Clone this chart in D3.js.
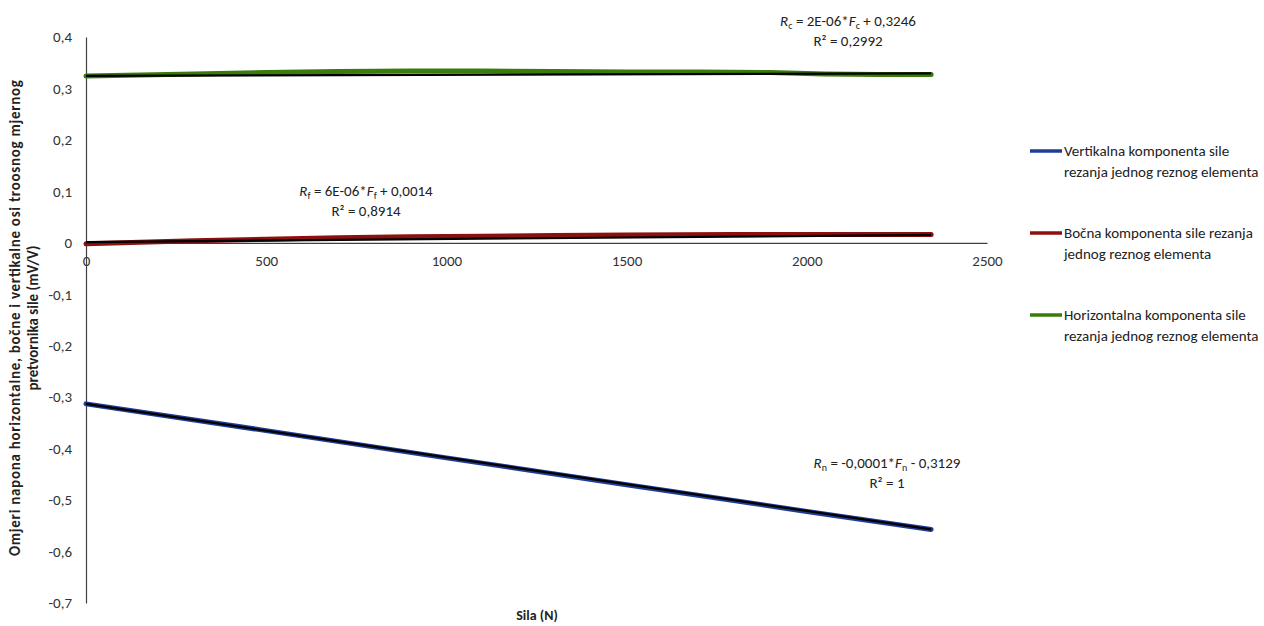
<!DOCTYPE html>
<html>
<head>
<meta charset="utf-8">
<script src="https://cdn.jsdelivr.net/npm/d3@7"></script>
<style>
  body { margin: 0; background: #fff; }
  svg { display: block; font-family: Carlito, Lato, "Open Sans", sans-serif; }
</style>
</head>
<body>
<div class="main-container"></div>
<script>
// data (force F in N, ratio in mV/V)
const forceVert = [0, 500, 1000, 1500, 2000, 2345];
const ratioVert = [-0.313, -0.365, -0.418, -0.470, -0.522, -0.557];

const forceSide = [0, 150, 300, 500, 700, 900, 1100, 1300, 1500, 1800, 2100, 2345];
const ratioSide = [-0.002, 0.001, 0.004, 0.007, 0.010, 0.012, 0.013, 0.014, 0.015, 0.016, 0.016, 0.016];

const forceHoriz = [0, 150, 300, 500, 700, 900, 1100, 1300, 1500, 1700, 1900, 2050, 2200, 2345];
const ratioHoriz = [0.324, 0.326, 0.328, 0.331, 0.333, 0.334, 0.334, 0.333, 0.332, 0.332, 0.331, 0.328, 0.327, 0.327];

// linear trend lines (start / end) as drawn
const trendForce = [0, 2345];
const trendVert = [-0.3129, -0.557];
const trendSide = [0.0014, 0.0155];
const trendHoriz = [0.3246, 0.3293];

const xTicks = [0, 500, 1000, 1500, 2000, 2500];
const yTicks = [0.4, 0.3, 0.2, 0.1, 0, -0.1, -0.2, -0.3, -0.4, -0.5, -0.6, -0.7];

const seriesNames = [
    ['Vertikalna komponenta sile', 'rezanja jednog reznog elementa'],
    ['Bočna komponenta sile rezanja', 'jednog reznog elementa'],
    ['Horizontalna komponenta sile', 'rezanja jednog reznog elementa']
];
const seriesColors = ['#1f3c96', '#8c1010', '#3a7c0c'];

// setup
const width = 1264, height = 626;
const svg = d3.select('.main-container').append('svg')
    .attr('width', width).attr('height', height);

const x = d3.scaleLinear().domain([0, 2500]).range([86, 987]);
const y = d3.scaleLinear().domain([-0.7, 0.4]).range([603, 37]);

const fmt = d => String(d).replace('.', ',');

// axes (no tick marks, Excel style)
const xAxis = svg.append('g')
    .attr('transform', `translate(0,${y(0)})`)
    .call(d3.axisBottom(x).tickValues(xTicks).tickSize(0).tickPadding(13).tickFormat(fmt));
const yAxis = svg.append('g')
    .attr('transform', `translate(${x(0)},0)`)
    .call(d3.axisLeft(y).tickValues(yTicks).tickSize(0).tickPadding(14).tickFormat(fmt));

[xAxis, yAxis].forEach(a => {
    a.select('.domain').attr('stroke', '#404040').attr('stroke-width', 1.2);
    a.selectAll('text').attr('fill', '#333').style('font-size', '15px')
        .style('font-family', 'Carlito, Lato, sans-serif');
});

// series lines
const line = d3.line().x(d => x(d[0])).y(d => y(d[1]));
const series = [
    { f: forceVert, r: ratioVert, t: trendVert },
    { f: forceSide, r: ratioSide, t: trendSide },
    { f: forceHoriz, r: ratioHoriz, t: trendHoriz }
];

series.forEach((s, i) => {
    svg.append('path')
        .attr('d', line(d3.zip(s.f, s.r)))
        .attr('fill', 'none')
        .attr('stroke', seriesColors[i])
        .attr('stroke-width', 5)
        .attr('stroke-linecap', 'round');
});
series.forEach(s => {
    svg.append('path')
        .attr('d', line(d3.zip(trendForce, s.t)))
        .attr('fill', 'none')
        .attr('stroke', '#000')
        .attr('stroke-width', 2.2);
});

// trend equations
function equation(cx, cy, sub, pre, post, r2) {
    const t = svg.append('text').attr('x', cx).attr('y', cy)
        .attr('text-anchor', 'middle').attr('fill', '#222').style('font-size', '15px');
    t.append('tspan').attr('font-style', 'italic').text('R');
    t.append('tspan').attr('dy', 3).style('font-size', '10px').text(sub);
    t.append('tspan').attr('dy', -3).text(pre);
    t.append('tspan').attr('font-style', 'italic').text('F');
    t.append('tspan').attr('dy', 3).style('font-size', '10px').text(sub);
    t.append('tspan').attr('dy', -3).text(post);
    svg.append('text').attr('x', cx).attr('y', cy + 20)
        .attr('text-anchor', 'middle').attr('fill', '#222').style('font-size', '15px')
        .text(r2);
}
equation(848, 26, 'c', ' = 2E-06*', ' + 0,3246', 'R² = 0,2992');
equation(366, 196, 'f', ' = 6E-06*', ' + 0,0014', 'R² = 0,8914');
equation(887, 468, 'n', ' = -0,0001*', ' - 0,3129', 'R² = 1');

// axis titles
svg.append('text')
    .attr('x', 537).attr('y', 620)
    .attr('text-anchor', 'middle').attr('font-weight', 'bold')
    .attr('fill', '#222').style('font-size', '14px')
    .text('Sila (N)');

const yTitle = svg.append('text')
    .attr('transform', 'translate(20,318) rotate(-90)')
    .attr('text-anchor', 'middle').attr('font-weight', 'bold')
    .attr('fill', '#222').style('font-size', '15px');
yTitle.append('tspan').attr('x', 0).attr('dy', 0)
    .attr('textLength', 476).attr('lengthAdjust', 'spacing')
    .text('Omjeri napona horizontalne, bočne i vertikalne osi troosnog mjernog');
yTitle.append('tspan').attr('x', 0).attr('dy', 18)
    .text('pretvornika sile (mV/V)');

// legend
const legend = svg.append('g');
seriesNames.forEach((names, i) => {
    const ly = 151 + i * 82;
    legend.append('line')
        .attr('x1', 1030).attr('x2', 1062).attr('y1', ly).attr('y2', ly)
        .attr('stroke', seriesColors[i]).attr('stroke-width', 3.5);
    names.forEach((n, j) => {
        legend.append('text')
            .attr('x', 1064).attr('y', ly + 5 + j * 21)
            .attr('fill', '#222').style('font-size', '15px')
            .text(n);
    });
});
</script>
</body>
</html>
